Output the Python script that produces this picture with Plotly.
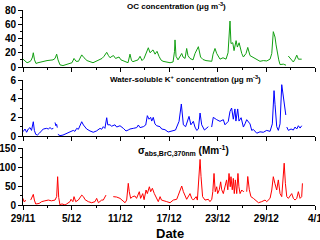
import pandas as pd
import plotly.graph_objects as go
from plotly.subplots import make_subplots

# ---------------- data (days since 29/11) ----------------
oc_day = [0.0, 0.25, 0.5, 0.74, 0.99, 1.17, 1.27, 1.42, 1.6, 1.85, 2.22, 2.59, 2.96, 3.33, 3.7, 3.95,
          4.15, 4.32, 4.56, 4.93, 5.3, 5.67, 6.04, 6.29, 6.54, 6.84, 7.03, 7.24, 7.52, 7.89, 8.26, 8.63,
          9.0, 9.37, 9.74, 9.99, 10.32, 10.54, 10.73, 10.97, 11.16, 11.41, 11.59, 11.84, 12.08, 12.33,
          12.58, 12.95, 13.19, 13.38, 13.56, 13.93, 14.18, 14.43, 14.67, 14.92, 15.17, 15.45, 15.66,
          15.84, 16.03, 16.28, 16.52, 16.77, 17.0, 17.26, 17.63, 18.13, 18.5, 18.68, 18.74, 18.87, 19.11,
          19.36, 19.57, 19.73, 19.98, 20.18, 20.34, 20.59, 20.96, 21.21, 21.62, 21.89, 22.19, 22.56,
          22.93, 23.27, 23.43, 23.67, 23.88, 24.29, 24.66, 25.03, 25.28, 25.42, 25.52, 25.64, 25.86,
          26.02, 26.27, 26.43, 26.64, 26.97, 27.17, 27.5, 27.71, 27.99, 28.4, 28.82, 29.22, 29.63,
          30.05, 30.46, 30.67, 30.86, 31.07, 31.2, 31.36, 31.53, 31.69, 32.1, 32.43, 32.57, 32.71,
          33.13, 33.33, 33.54, 33.75, 33.95, 34.36]
oc_val = [11, 8, 6, 7, 9, 14, 20, 10, 5, 6, 7.5, 8, 9, 9, 10, 12,
          18, 10, 3, 2, 3, 5, 6, 12, 8, 8, 12, 17, 13, 9, 7.5, 6,
          8, 10, 12, 15, 20.6, 16, 13, 15, 16, 12, 13, 14, 10, 9,
          7, 6, 18, 9, 7.5, 9, 10, 15, 9, 12, 18, 27, 20,
          22, 24, 18, 22, 15, 10, 8, 7, 6, 7, 22, 38, 15, 10,
          14, 19, 14, 12, 26, 16, 12, 10, 19, 28.5, 14, 10.5, 9,
          8.5, 8, 18, 26, 19, 11, 13, 11, 20, 45, 64.5, 33, 34,
          23, 37, 28, 34, 19, 14, 19, 27.5, 16, 13, 10.5, 8, 9,
          8.5, 11, 19, 49.6, 42, 31, 19, 10, 3.4, 4, 2.5, None, 15.4,
          10.5, 7, 11, 16.6, 11, 11]

k_day = [0.0, 0.25, 0.45, 0.65, 0.87, 1.05, 1.27, 1.4, 1.57, 1.78, 2.02, 2.3, 2.5, 2.92, 3.12, 3.33,
         3.54, 3.74, 3.85, 3.95, 4.05, 4.15, 4.23, 4.27, 4.3, 4.56, 4.93, 5.38, 5.6, 6.2, 6.4, 6.62,
         6.83, 7.03, 7.24, 7.45, 7.65, 7.85, 8.26, 8.66, 9.06, 9.5, 9.7, 9.9, 10.1, 10.32, 10.45,
         10.73, 10.93, 11.34, 11.55, 11.96, 12.37, 12.7, 12.97, 13.19, 13.6, 14.02, 14.22, 14.43,
         14.84, 15.13, 15.33, 15.54, 15.74, 15.87, 16.06, 16.27, 16.48, 16.89, 17.1, 17.5, 17.9,
         18.35, 18.8, 19.24, 19.52, 19.77, 20.05, 20.47, 20.7, 21.0, 21.2, 21.42, 21.62, 21.83,
         22.03, 22.37, 22.65, 22.85, 23.05, 23.26, 23.46, 23.88, 24.29, 24.7, 24.9, 25.31, 25.52,
         25.72, 25.93, 26.13, 26.25, 26.47, 26.63, 26.89, 27.17, 27.37, 27.58, 27.99, 28.2, 28.4,
         28.82, 29.22, 29.63, 30.04, 30.46, 30.74, 30.95, 31.07, 31.28, 31.48, 31.69, 31.9, 32.1,
         32.4, 32.46, 32.52, 32.72, 33.05, 33.33, 33.54, 33.75, 33.95, 34.16, 34.36]
k_val = [0.46, 0.75, 0.4, 0.75, 0.9, 0.6, 1.53, 0.6, 0.18, 0.11, 0.3, 0.54, 0.75, 0.82, 0.75, 0.9,
         0.75, 0.82, None, 1.45, 1.1, 1.25, 0.9, None, 0.18, 0.04, 0.1, 0.3, 0.4, 0.6, 0.5, 0.82,
         0.72, 1.18, 1.53, 1.18, 0.9, 0.75, 0.54, 0.4, 0.54, 0.82, 0.72, 1.0, 0.82, 1.96, 1.2,
         1.2, 1.05, 1.2, 0.96, 1.1, 0.82, 0.54, 0.64, 0.75, 0.82, 0.9, 1.18, 0.9,
         1.0, 1.18, 2.18, 1.8, 2.0, 1.6, 2.0, 1.3, 1.1, 1.0, 0.75, 0.68, 0.43,
         0.54, 0.64, 1.57, 3.43, 1.2, 1.0, 2.1, 1.2, 1.57, 0.96, 0.6, 0.75, 2.46,
         1.2, 0.64, 0.82, 1.0, None, 0.96, 2.0, 1.75, 1.57, 1.75, 1.2, 1.57, 2.64,
         3.0, 1.8, 2.9, 1.6, 2.9, 1.6, 1.96, 0.96, 1.3, 1.75, 1.3, 0.6, 0.7,
         0.3, 0.45, 0.4, 0.6, 0.5, 1.3, 4.86, 3.4, 1.0, 0.6, 1.3, 5.5, 4.07,
         2.25, None, 0.96, 0.6, 0.75, 0.64, 0.96, 0.75, 1.1, 0.85, 1.1]

s_day = [0.0, 0.12, 0.37, 0.6, 0.95, 1.1, 1.27, 1.4, 1.57, 1.98, 2.3, 2.7, 3.12, 3.5, 3.95, 4.15,
         4.27, 4.4, 4.56, 4.8, 5.18, 5.4, 5.8, 5.92, 6.15, 6.29, 6.5, 6.82, 7.24, 7.45, 7.65, 8.05,
         8.47, 8.88, 9.08, 9.3, 9.7, 9.9, 10.23, 10.5, 11.13, 11.54, 11.96, 12.25, 12.58, 12.78,
         12.98, 13.1, 13.27, 13.52, 13.8, 14.0, 14.34, 14.5, 14.76, 14.93, 15.17, 15.33, 15.58,
         15.74, 15.95, 16.19, 16.4, 16.68, 16.9, 17.07, 17.72, 18.13, 18.53, 18.95, 19.15, 19.36,
         19.57, 19.77, 19.98, 20.18, 20.59, 20.8, 21.0, 21.35, 21.5, 21.7, 21.83, 21.95, 22.14,
         22.44, 22.85, 23.05, 23.27, 23.4, 23.55, 23.7, 23.88, 24.0, 24.2, 24.37, 24.5, 24.7, 24.9,
         25.1, 25.25, 25.4, 25.55, 25.64, 25.8, 25.93, 26.05, 26.18, 26.35, 26.5, 26.62, 26.76,
         26.97, 27.17, 27.25, 27.4, 27.58, 27.71, 27.9, 28.1, 28.4, 28.61, 29.03, 29.43, 29.84,
         30.05, 30.46, 30.67, 30.86, 31.05, 31.28, 31.48, 31.69, 31.9, 32.05, 32.2, 32.35, 32.52,
         32.72, 33.13, 33.33, 33.54, 33.75, 33.95, 34.16, 34.36, 34.45]
s_val = [17.5, 8.8, 12, None, 13, 22, 28, 13, 2.6, 4, 8.8, 11, 13, 11, 13, 22,
         74.5, 20, 0, 3, 0, 3, 9, 15, 8.8, 22, 8.8, 13, 26, 22, 14, 8.8,
         6, 8.8, 17.5, 6, 13, 13, 26, None, 22, 21, 17.5, 13, 6, 13,
         57, 35, 17.5, 22, 23.7, 17.5, 35, 17.5, 30, 14, 39.5, 30, 48,
         35, 44, 30, 22, 8.8, 22, 13, 8.8, 6, 13, 15, 26, 39.5,
         50, 35, 22, 15, 30, 17.5, 13, 22, 13, 74.5, 120, 74.5, 22,
         13, 15, 8.8, 15, 35, 83, 35, 48, 30, 40, 61, 40, 30, 48,
         66, 40, 83, 48, 74.5, 40, 70, 30, 66, 30, 83, 48, 30,
         39.5, 35, 37, None, 35, 75, 40, 22, 17.5, 13, 6, 8.8, 13,
         8.8, 17.5, 39.5, 74.5, 57, 39.5, 66, 30, 22, 57, 110, 57, 22,
         17.5, 30, 17.5, 13, 17.5, 35, 17.5, 22, 57]

tick_days = [0, 6, 12, 18, 24, 30, 36]
tick_labels = ['29/11', '5/12', '11/12', '17/12', '23/12', '29/12', '4/1']

# ---------------- figure ----------------
base = pd.Timestamp('2016-11-29')
def to_dates(days):
    return [(base + pd.Timedelta(days=d)).strftime('%Y-%m-%d %H:%M:%S') for d in days]

x_start, x_end = to_dates([0, 36])

fig = make_subplots(rows=3, cols=1, shared_xaxes=True)
fig.add_trace(go.Scatter(x=to_dates(oc_day), y=oc_val, mode='lines',
                         line=dict(color='#12a012', width=1), connectgaps=False), row=1, col=1)
fig.add_trace(go.Scatter(x=to_dates(k_day), y=k_val, mode='lines',
                         line=dict(color='#0000ff', width=1), connectgaps=False), row=2, col=1)
fig.add_trace(go.Scatter(x=to_dates(s_day), y=s_val, mode='lines',
                         line=dict(color='#ff0000', width=1), connectgaps=False), row=3, col=1)

font_family = 'Liberation Sans, Arial, sans-serif'
tickfont = dict(family=font_family, size=10, color='black', weight='bold')

fig.update_xaxes(type='date', range=[x_start, x_end], autorange=False, automargin=False,
                 tickmode='array', tickvals=to_dates(tick_days), ticktext=tick_labels,
                 ticklabeloverflow='allow',
                 ticks='outside', ticklen=4, tickwidth=1, tickcolor='black',
                 showline=True, linecolor='black', linewidth=1, showgrid=False, zeroline=False,
                 minor=dict(ticks='outside', ticklen=2, tickcolor='black',
                            tick0=x_start, dtick=3 * 86400000, showgrid=False),
                 tickfont=tickfont)
fig.update_yaxes(ticks='outside', ticklen=4, tickwidth=1, tickcolor='black', automargin=False,
                 showline=True, linecolor='black', linewidth=1, showgrid=False, zeroline=False,
                 ticklabeloverflow='allow', tickfont=tickfont)

fig.update_yaxes(range=[0, 80], dtick=20, minor=dict(ticks='outside', ticklen=2, dtick=10, tickcolor='black'),
                 domain=[0.7077, 1.0], row=1, col=1)
fig.update_yaxes(range=[0, 6], dtick=2, minor=dict(ticks='outside', ticklen=2, dtick=1, tickcolor='black'),
                 domain=[0.3538, 0.641], row=2, col=1)
fig.update_yaxes(range=[0, 150], dtick=50, minor=dict(ticks='outside', ticklen=2, dtick=25, tickcolor='black'),
                 domain=[0.0, 0.2923], row=3, col=1)

ann_font = dict(family=font_family, size=8, color='black')
fig.add_annotation(x=0.527, y=1.02, xref='paper', yref='paper', showarrow=False, yanchor='middle',
                   text='<b>OC concentration (\u03bcg m<sup>-3</sup>)</b>', font=ann_font)
fig.add_annotation(x=0.558, y=0.646, xref='paper', yref='paper', showarrow=False, yanchor='middle',
                   text='<b>Water-soluble K<sup>+</sup> concentration (\u03bcg m<sup>-3</sup>)</b>', font=ann_font)
fig.add_annotation(x=0.548, y=0.275, xref='paper', yref='paper', showarrow=False, yanchor='middle',
                   text='<b>\u03c3<sub>abs,BrC,370nm</sub> (Mm<sup>-1</sup>)</b>',
                   font=dict(family=font_family, size=10, color='black'))
fig.add_annotation(x=0.503, y=-0.1436, xref='paper', yref='paper', showarrow=False, yanchor='middle',
                   text='<b>Date</b>', font=dict(family=font_family, size=13, color='black'))

fig.update_layout(width=320, height=240, margin=dict(l=23, r=5, t=10, b=35, autoexpand=False),
                  paper_bgcolor='white', plot_bgcolor='white', showlegend=False)

fig.write_html('out.html', config={'displayModeBar': False},
               post_script="document.body.style.margin='0px';")
